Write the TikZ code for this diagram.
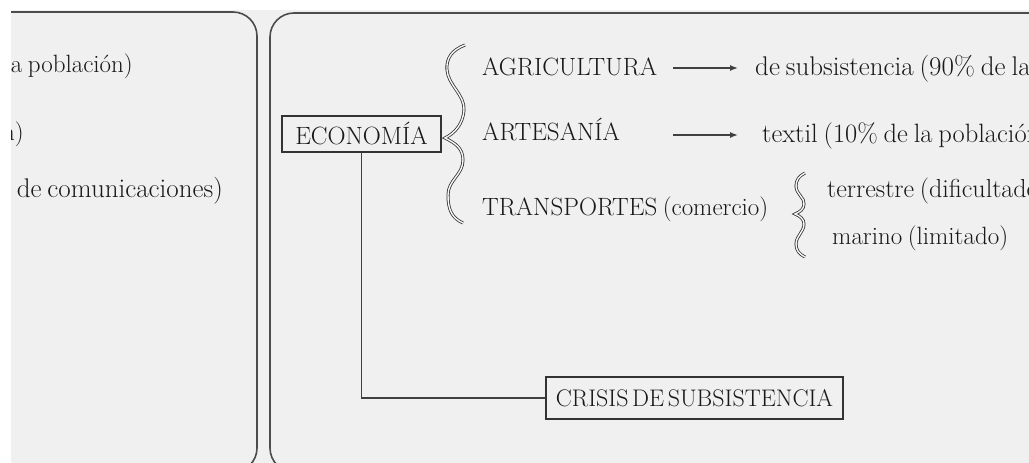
\documentclass[tikz,border=0pt]{standalone}
\usepackage{tikz}
\usetikzlibrary{arrows.meta, positioning}

\newcommand\tightsp[1]{\spaceskip=#1em\relax}

\tikzset{
  item/.style = {inner sep=0pt, text=black!90, font={\fontsize{25}{29}\selectfont\tightsp{0.22}}},
  wide/.style = {font={\fontsize{#1}{30}\selectfont\tightsp{0.22}}},
  box/.style = {item, draw=black!80, line width=1.3pt},
  panel/.style = {draw=black!70, line width=1.6pt, rounded corners=24pt},
  bracestroke/.style = {draw=black!80, line width=0.8pt, double=black!3, double distance=1.4pt},
  link/.style = {draw=black!75, line width=1.4pt},
}

\begin{document}
\begin{tikzpicture} [x=1pt, y=-1pt]

\useasboundingbox (0,0) rectangle (1029,463);
\clip (0,0) rectangle (1029,463);
\fill [white] (0,0) rectangle (1029,463);
\fill [black!6] (11,10) rectangle (1029,463);

% paneles
\draw [panel] (11,12) -- (257,12) -- (257,472) -- (11,472);
\draw [panel] (1040,13) -- (270,13) -- (270,472) -- (1040,472);

% panel izquierdo
\begin{scope}
\clip (11,10) rectangle (257,463);
\node (pob) [item, anchor=base east] at (133,72) {la población)};
\node (pn) [item, anchor=base east] at (24,140) {n)};
\node (com) [item, wide=27, anchor=base east] at (223,197) {de comunicaciones)};
\end{scope}

% economia
\node (eco) [box, minimum width=159pt, minimum height=36pt] at (361.5,134) {ECONOMÍA};
\node (crisis) [box, minimum width=297pt, minimum height=42pt,
  font={\fontsize{24}{28}\selectfont\tightsp{0.15}}] at (694.5,398) {CRISIS DE SUBSISTENCIA};

\node (agri) [item, anchor=base west] at (482,75) {AGRICULTURA};
\node (arte) [item, anchor=base west] at (482,140) {ARTESANÍA};
\node (trans) [item, anchor=base west] at (482,215) {TRANSPORTES (comercio)};

\node (subs) [item, wide=27, anchor=base west] at (755,75) {de subsistencia (90\% de la población)};
\node (textil) [item, wide=26.5, anchor=base west] at (762,142) {textil (10\% de la población)};
\node (terr) [item, wide=26, anchor=base west] at (827,197) {terrestre (dificultades)};
\node (mar) [item, anchor=base west] at (832,244) {marino (limitado)};

\coordinate (a1) at (673,68);
\coordinate (a2) at (673,135);

% llaves
\draw [bracestroke] (465,45) .. controls (452,50) and (446,58) .. (447,70)
  .. controls (448,85) and (465,95) .. (464,110)
  .. controls (463,124) and (455,133) .. (445,138)
  .. controls (455,143) and (463,148) .. (463,160)
  .. controls (463,175) and (448,180) .. (448,195)
  .. controls (448,210) and (452,218) .. (463,223);
\draw [bracestroke] (805,173) .. controls (799,176) and (796,180) .. (796,186)
  .. controls (796,194) and (805,198) .. (804,204)
  .. controls (804,209) and (800,212) .. (795,214)
  .. controls (800,216) and (804,219) .. (804,224)
  .. controls (804,232) and (796,236) .. (796,244)
  .. controls (796,250) and (799,254) .. (805,257);

\draw [link, -{Latex[length=8pt, width=6pt]}, shorten >=17pt]
  (a1) -- (a1 -| subs.west);
\draw [link, -{Latex[length=8pt, width=6pt]}, shorten >=24pt]
  (a2) -- (a2 -| textil.west);

\draw [link] (eco.south) |- (crisis.west);

\end{tikzpicture}
\end{document}
